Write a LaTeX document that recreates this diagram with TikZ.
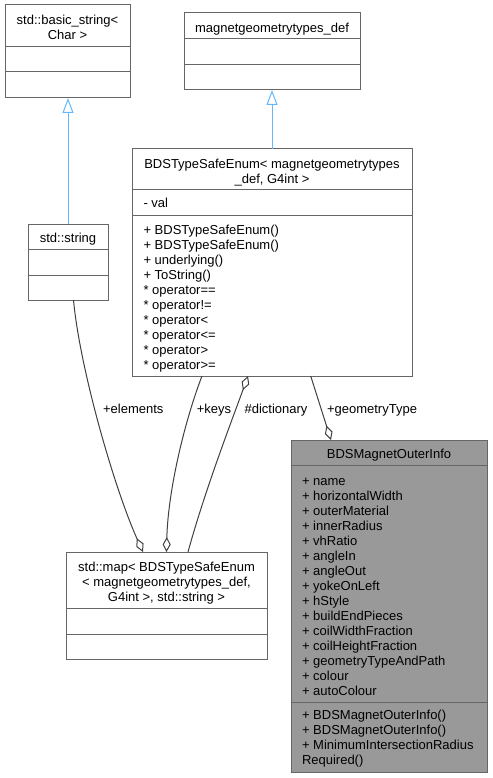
\documentclass[tikz,border=0pt]{standalone}
\usepackage{fontspec}
\setmainfont{Liberation Sans}
\usetikzlibrary{arrows.meta}
\definecolor{boxgrey}{HTML}{666666}
\definecolor{boxfill}{HTML}{999999}
\definecolor{edgegrey}{HTML}{404040}
\definecolor{inhblue}{HTML}{63B8FF}

\begin{document}
\begin{tikzpicture}[x=1pt,y=-1pt,line width=1pt,
      every node/.style={font=\fontsize{13}{15}\selectfont},
      cls/.style={draw=boxgrey,fill=white,rectangle,inner sep=0pt,outer sep=0pt},
      ttl/.style={inner sep=0pt,align=center,anchor=north},
      mbr/.style={inner sep=0pt,align=left,anchor=north west},
      lbl/.style={inner sep=0pt,anchor=base},
      sep/.style={draw=boxgrey},
      inh/.style={draw=inhblue,-{Triangle[open,length=15pt,width=11pt]}},
      agg/.style={draw=edgegrey,{Diamond[open,length=15pt,width=8pt]}-}]
      \useasboundingbox (0,0) rectangle (492,778);

      \node[cls,minimum width=125pt,minimum height=93pt] (basicstr) at (67.5,51.5) {};
      \draw[sep] (5,47) -- (130,47);
      \draw[sep] (5,72) -- (130,72);
      \node[ttl] (basicstrname) at (67.5,14) {\strut std::basic\_string<\\Char >};

      \node[cls,minimum width=176pt,minimum height=77pt] (geomdef) at (272,51.5) {};
      \draw[sep] (184,39) -- (360,39);
      \draw[sep] (184,65) -- (360,65);
      \node[ttl] (geomdefname) at (272,21.7) {\strut magnetgeometrytypes\_def};

      \node[cls,minimum width=280pt,minimum height=227pt] (safeenum) at (272,262.5) {};
      \draw[sep] (132,189) -- (412,189);
      \draw[sep] (132,215) -- (412,215);
      \node[ttl] (safeenumname) at (272,157.3) {\strut BDSTypeSafeEnum< magnetgeometrytypes\\\_def, G4int >};
      \node[mbr] (safeenumattr) at (143,196.3) {\strut - val};
      \node[mbr] (safeenumops) at (143,223.3) {\strut + BDSTypeSafeEnum()\\+ BDSTypeSafeEnum()\\+ underlying()\\+ ToString()\\* operator==\\* operator!=\\* operator<\\* operator<=\\* operator>\\* operator>=};

      \node[cls,minimum width=80pt,minimum height=76pt] (stdstring) at (68,262) {};
      \draw[sep] (28,249) -- (108,249);
      \draw[sep] (28,275) -- (108,275);
      \node[ttl] (stdstringname) at (68,231.7) {\strut std::string};

      \node[cls,minimum width=201pt,minimum height=107pt] (stdmap) at (166.5,605.5) {};
      \draw[sep] (66,608) -- (267,608);
      \draw[sep] (66,634) -- (267,634);
      \node[ttl] (stdmapname) at (166.5,560.7) {\strut std::map< BDSTypeSafeEnum\\< magnetgeometrytypes\_def,\hspace*{12pt}\\G4int >, std::string >};

      \node[cls,fill=boxfill,minimum width=196pt,minimum height=332pt] (outerinfo) at (389,606) {};
      \draw[sep] (291,465) -- (487,465);
      \draw[sep] (291,702) -- (487,702);
      \node[ttl] (outerinfoname) at (389,447.3) {\strut BDSMagnetOuterInfo};
      \node[mbr] (outerinfoattr) at (301.5,474) {\strut + name\\+ horizontalWidth\\+ outerMaterial\\+ innerRadius\\+ vhRatio\\+ angleIn\\+ angleOut\\+ yokeOnLeft\\+ hStyle\\+ buildEndPieces\\+ coilWidthFraction\\+ coilHeightFraction\\+ geometryTypeAndPath\\+ colour\\+ autoColour};
      \node[mbr] (outerinfoops) at (301.5,708) {\strut + BDSMagnetOuterInfo()\\+ BDSMagnetOuterInfo()\\+ MinimumIntersectionRadius\\Required()};

      \draw[inh] (stdstring.north) -- (stdstring.north |- basicstr.south);
      \draw[inh] (safeenum.north) -- (geomdef.south);

      \draw[agg] ([xshift=-23.5pt]stdmap.north) .. controls (115,490) and (80,370) .. ([xshift=5.5pt]stdstring.south);
      \draw[agg] (stdmap.north) .. controls (168,490) and (185,420) .. ([xshift=-70pt]safeenum.south);
      \draw[agg] ([xshift=-24pt]safeenum.south) .. controls (232,420) and (205,490) .. ([xshift=21.5pt]stdmap.north);
      \draw[agg] ([xshift=-58pt]outerinfo.north) -- ([xshift=38.7pt]safeenum.south);

      \node[lbl] (elementslbl) at (133.3,413) {+elements};
      \node[lbl] (keyslbl) at (214,413) {+keys};
      \node[lbl] (dictlbl) at (276,413) {\#dictionary};
      \node[lbl] (geomtypelbl) at (372,413) {+geometryType};
\end{tikzpicture}
\end{document}
